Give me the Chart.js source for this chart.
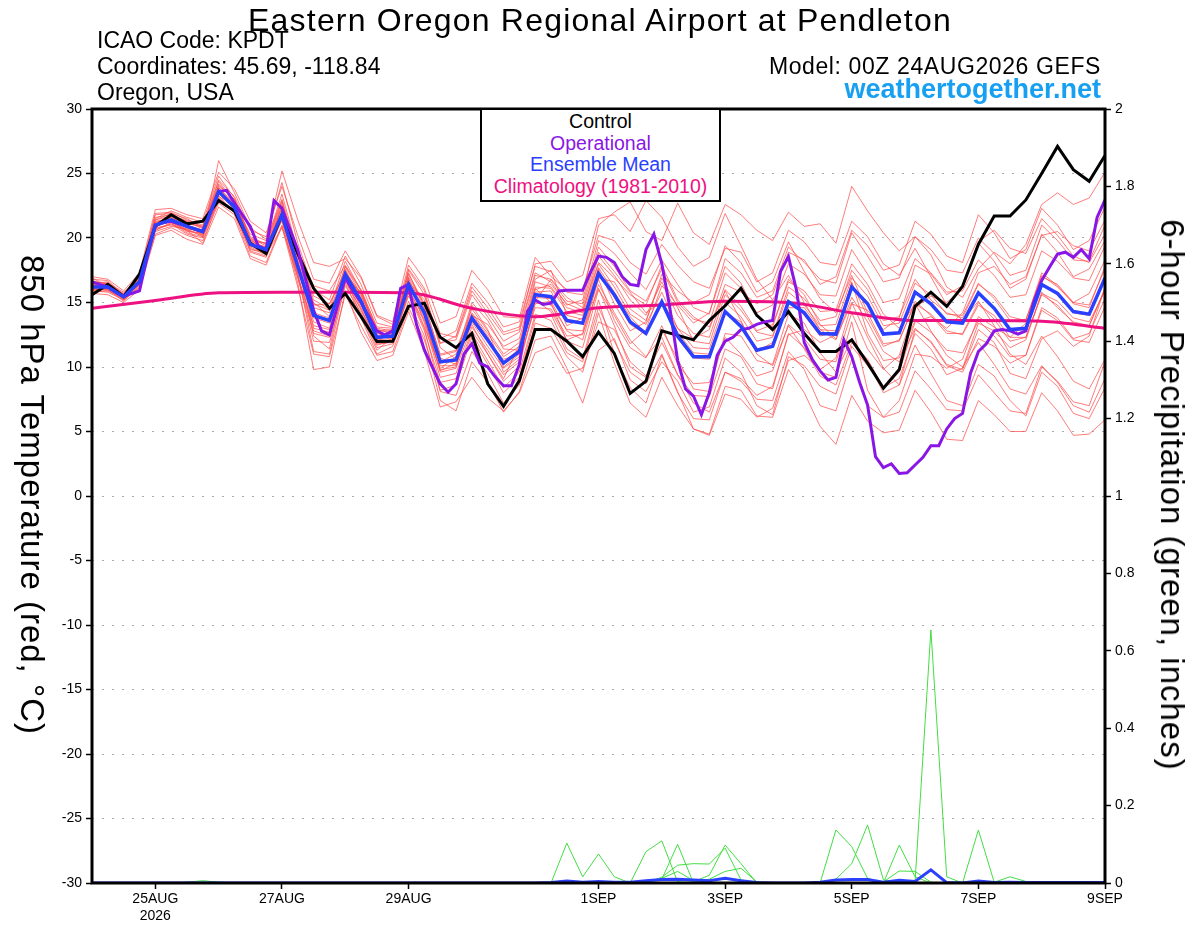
<!DOCTYPE html>
<html>
<head>
<meta charset="utf-8">
<title>KPDT GEFS 850 hPa Temperature</title>
<script src="https://cdn.jsdelivr.net/npm/chart.js@4.4.1/dist/chart.umd.min.js"></script>
<style>
  body { margin: 0; background: #fff; }
  #wrap { position: relative; width: 1200px; height: 927px; font-family: 'Liberation Sans', Arial, sans-serif; color: #000; }
  #chart { position: absolute; left: 0; top: 0; }
  .txt { position: absolute; white-space: nowrap; line-height: 1; }
  #title { left: 0; width: 1200px; text-align: center; top: 4px; font-size: 32px; letter-spacing: 1.2px; }
  .info { font-size: 23px; left: 97px; }
  .infoR { font-size: 23px; right: 99px; letter-spacing: 0.6px; }
  #site { right: 99px; top: 76px; font-size: 27px; font-weight: bold; color: #17a0f2; }
  #legend { position: absolute; left: 480px; top: 108px; width: 237px; height: 89px; border: 2px solid #000; background: #fff; text-align: center; font-size: 19.5px; line-height: 21.5px; padding-top: 1px; box-sizing: content-box; }
  .axTitle { position: absolute; white-space: nowrap; font-size: 33px; letter-spacing: 1px; transform: translate(-50%, -50%) rotate(90deg); }
</style>
</head>
<body>
<div id="wrap">
  <canvas id="chart" width="1200" height="927"></canvas>
  <div id="title" class="txt">Eastern Oregon Regional Airport at Pendleton</div>
  <div class="txt info" style="top:29px">ICAO Code: KPDT</div>
  <div class="txt info" style="top:55px">Coordinates: 45.69, -118.84</div>
  <div class="txt info" style="top:81px">Oregon, USA</div>
  <div class="txt infoR" style="top:55px">Model: 00Z 24AUG2026 GEFS</div>
  <div id="site" class="txt">weathertogether.net</div>
  <div id="legend">
    <div style="color:#000">Control</div>
    <div style="color:#8a16e6">Operational</div>
    <div style="color:#2b40ff">Ensemble Mean</div>
    <div style="color:#ee1181">Climatology (1981-2010)</div>
  </div>
  <div class="axTitle" style="left:32px; top:495px">850 hPa Temperature (red, °C)</div>
  <div class="axTitle" style="left:1172px; top:495px">6-hour Precipitation (green, inches)</div>
</div>
<script>
// Horas desde 00Z 24AUG2026 (passo de 6h para membros, 3h para o operacional)
const tickHours = [24, 72, 120, 192, 240, 288, 336, 384];
const tickLabels = [['25AUG', '2026'], '27AUG', '29AUG', '1SEP', '3SEP', '5SEP', '7SEP', '9SEP'];

// Controle (6h)
const controlT = [15.6,16.4,15.45,17.2,20.9,21.8,21.1,21.3,22.9,22.1,19.6,18.8,21.8,
  18.8,16.1,14.55,15.7,13.9,11.97,12.0,14.7,14.95,12.3,11.5,12.6,8.7,6.95,8.95,12.9,
  12.9,12.0,10.8,12.7,11.05,7.95,8.9,12.8,12.45,12.1,13.6,14.75,16.1,14.0,12.9,14.3,
  12.6,11.2,11.2,12.1,10.3,8.35,9.8,14.7,15.8,14.7,16.25,19.5,21.7,21.7,22.95,25.0,
  27.1,25.3,24.4,26.4];

// Média do ensemble (6h)
const meanT = [16.2,16.2,15.45,16.6,21.0,21.4,20.9,20.5,23.6,22.4,19.5,19.1,21.8,
  17.8,14.0,13.6,17.2,15.1,12.3,12.4,16.4,14.2,10.4,10.55,13.8,12.1,10.3,11.2,15.6,
  15.45,13.6,13.4,17.25,15.6,13.5,12.6,15.05,12.4,10.8,10.8,14.3,13.15,11.3,11.6,15.05,
  14.2,12.6,12.55,16.2,14.9,12.55,12.65,15.8,14.9,13.5,13.4,15.75,14.55,12.9,13.0,16.4,
  15.7,14.3,14.1,16.9];

// Operacional (3h)
const operationalT = [16.6,16.4,16.2,15.8,15.45,15.7,15.9,18.6,21.0,21.2,
  21.3,21.1,20.9,20.7,20.5,22.0,23.6,23.7,22.7,21.8,
  20.9,19.4,19.1,22.9,22.3,20.7,19.1,16.8,14.4,12.8,
  12.5,14.7,16.9,15.9,15.0,13.9,12.8,12.5,12.8,16.1,
  16.4,13.3,11.3,10.0,8.7,8.05,8.7,11.0,11.8,10.3,
  10.0,9.2,8.55,8.55,10.2,14.3,15.2,14.85,14.95,15.9,
  15.95,15.95,15.95,17.35,18.6,18.5,18.1,17.0,16.4,16.3,
  19.1,20.3,18.0,14.65,10.5,8.3,7.75,6.3,8.0,10.9,
  12.0,12.3,12.9,13.0,13.3,13.5,13.6,17.4,18.55,16.0,
  11.9,10.6,9.7,9.0,9.2,12.1,10.8,8.8,7.05,3.05,
  2.2,2.5,1.75,1.8,2.4,3.0,3.9,3.9,5.2,6.0,
  6.4,9.5,11.2,11.8,12.8,12.9,12.8,12.55,12.8,15.05,
  16.7,17.75,18.75,18.9,18.5,19.1,18.4,21.6,22.95];

// Climatologia (diária)
const climT = [14.55,15.15,15.75,15.8,15.8,15.75,14.55,13.9,14.6,14.8,15.1,15.0,14.2,13.6,13.6,13.55,13.0];

// Membros do ensemble (6h)
const member01 = [16.5,16.6,15.6,17.0,21.8,21.9,21.2,20.8,24.2,22.9,20.0,19.4,22.6,
  18.5,14.6,14.2,17.8,15.6,12.8,12.9,17.0,
  14.8,11.0,11.3,14.5,12.8,11.0,11.9,16.2,16.1,14.3,14.0,18.0,
  16.2,14.1,13.3,15.8,13.0,11.5,11.4,15.0,13.9,12.0,12.3,15.8,14.8,13.2,13.3,16.9,
  15.5,13.2,13.4,16.5,15.6,14.1,14.0,16.5,15.3,13.6,13.7,17.0,16.4,15.0,14.8,17.6];
const member02 = [16.9,16.3,15.3,16.4,20.6,21.2,20.4,20.1,26.0,23.5,20.8,19.9,25.2,
  21.4,18.1,17.8,18.4,16.9,13.9,13.3,16.2,
  15.5,12.2,12.8,16.5,15.0,13.1,13.5,17.8,17.4,15.8,15.6,21.0,
  22.0,22.8,20.5,19.8,22.7,20.4,19.5,22.6,21.8,20.6,19.8,22.0,20.9,21.1,19.6,24.0,
  22.1,20.4,19.0,20.1,18.7,16.2,15.4,17.6,18.9,18.0,19.5,22.6,23.5,22.6,23.1,25.1];
const member03 = [15.9,15.8,15.2,16.2,20.3,20.8,20.2,19.8,22.7,21.8,18.6,18.1,21.0,
  17.0,12.0,11.9,16.3,14.2,11.5,11.8,15.8,
  13.0,8.1,7.8,11.2,9.5,7.2,8.6,13.4,13.0,10.8,9.6,14.2,
  10.3,7.2,6.1,9.2,7.0,5.2,4.8,8.5,8.2,6.2,6.1,9.8,8.0,5.4,4.0,7.8,
  5.8,4.9,5.1,8.2,6.5,4.4,4.3,7.4,6.3,5.0,5.0,8.0,6.6,4.7,4.8,5.9];
const member04 = [16.4,16.1,15.6,16.8,21.5,22.1,21.6,21.2,24.8,23.1,19.9,19.6,23.4,
  19.0,15.2,14.5,18.2,15.9,13.1,13.0,17.5,
  15.6,11.9,12.1,15.6,13.9,12.0,12.7,17.1,16.8,15.1,14.9,19.3,
  17.8,15.9,15.1,17.6,15.0,13.7,13.4,17.3,16.1,14.2,14.8,18.0,17.2,15.6,15.5,19.1,
  17.2,15.0,15.3,18.4,17.3,15.8,15.9,18.3,17.1,15.4,15.6,19.0,18.2,16.9,16.7,19.4];
const member05 = [16.0,16.4,15.4,16.5,20.8,21.0,20.6,19.6,23.0,22.0,18.9,18.5,21.5,
  17.3,11.2,11.0,16.5,13.8,11.0,11.6,15.1,
  12.4,7.4,6.6,10.4,8.8,6.5,8.1,12.1,12.4,9.9,7.2,11.3,
  12.2,9.0,8.1,10.4,8.9,6.5,6.9,10.7,9.6,7.0,6.3,10.8,10.1,8.5,7.9,11.6,
  10.1,8.4,9.6,13.5,13.9,13.0,14.2,17.3,17.8,16.4,17.0,20.2,20.5,19.4,19.0,21.4];
const member06 = [17.0,16.8,15.9,17.3,22.2,22.3,21.8,21.5,25.1,23.8,21.3,20.4,24.0,
  20.2,16.8,16.5,19.0,17.0,14.0,13.5,18.5,
  16.8,13.4,13.9,17.5,16.0,13.9,13.8,18.5,17.0,16.0,16.0,20.2,
  19.8,18.1,17.2,19.5,17.9,16.6,16.1,19.2,18.9,16.6,17.3,20.6,19.7,18.1,17.9,21.3,
  20.1,18.0,17.1,19.2,17.0,14.8,13.6,15.1,13.2,11.0,10.2,12.4,10.8,8.9,8.3,10.6];
const member07 = [16.3,16.0,15.1,16.3,21.1,21.5,21.0,20.3,23.4,22.5,19.1,18.9,22.0,
  17.6,13.5,13.0,17.6,15.3,12.1,12.2,16.8,
  14.5,10.7,10.2,13.5,11.6,9.9,10.8,15.8,15.9,13.2,13.8,17.6,
  14.9,12.8,13.5,17.2,15.9,15.0,15.6,19.4,18.1,15.8,16.6,19.7,17.4,15.3,14.2,17.1,
  14.2,11.8,12.0,15.1,14.0,12.6,12.6,15.0,13.7,12.0,12.3,15.6,14.8,13.4,13.2,16.1];
const member08 = [15.8,15.9,15.4,16.6,20.5,20.9,20.7,20.1,22.9,22.2,19.6,19.3,21.3,
  16.5,9.8,10.0,15.9,12.7,10.5,10.9,14.3,
  11.2,6.9,7.3,9.2,7.6,6.6,8.0,11.1,11.6,9.5,9.9,13.5,
  12.9,10.4,9.3,11.9,9.4,7.8,7.7,11.4,10.8,8.7,8.3,12.6,11.5,9.6,9.2,13.5,
  8.2,6.1,6.5,9.7,8.3,6.7,6.6,9.4,8.0,6.6,6.4,10.0,8.9,7.3,7.0,10.4];
const member09 = [16.6,16.5,15.8,16.9,21.4,21.7,21.1,20.9,23.9,22.7,20.3,19.8,23.0,
  18.9,15.5,14.9,17.4,15.5,12.9,12.6,17.2,
  14.9,10.9,11.2,14.2,12.6,10.8,11.6,16.6,16.2,14.6,14.2,18.6,
  17.1,15.2,14.0,16.6,14.0,12.6,12.3,16.0,14.7,12.8,13.3,16.6,15.9,14.3,14.4,18.0,
  16.4,14.1,13.0,14.9,12.8,10.9,10.0,11.9,10.2,8.3,7.9,10.1,8.8,7.0,6.5,9.1];
const member10 = [16.1,15.9,15.3,16.1,20.9,21.3,20.5,20.4,23.3,21.9,19.2,18.7,20.8,
  16.9,12.6,12.3,17.0,14.6,11.9,12.1,16.0,
  13.7,9.6,9.9,13.1,11.3,9.4,10.4,14.9,15.1,12.8,12.1,16.4,
  14.2,12.1,10.8,12.3,9.4,7.2,6.5,9.6,9.1,7.8,8.5,12.5,12.9,11.9,12.5,16.6,
  12.6,10.5,10.7,13.6,12.7,11.3,11.1,13.6,12.4,10.8,10.9,14.4,13.6,12.1,11.9,14.7];
const member11 = [16.7,16.4,15.5,17.1,21.9,22.0,21.4,21.0,24.5,23.2,20.6,20.1,24.3,
  19.6,16.0,15.2,18.6,16.4,13.4,13.1,17.9,
  16.1,12.6,12.3,15.9,14.2,12.5,12.9,17.3,16.6,14.8,15.2,19.8,
  18.8,17.3,16.0,18.3,16.4,14.6,14.1,18.4,17.3,15.4,15.9,19.3,18.1,16.8,16.5,20.4,
  18.6,16.6,16.9,20.1,19.1,17.5,17.3,20.0,18.8,17.1,17.5,21.0,19.8,18.3,18.2,21.0];
const member12 = [15.7,15.6,15.0,16.0,20.2,20.6,19.9,19.5,22.4,21.5,18.4,17.9,20.9,
  16.2,11.0,10.8,15.6,13.2,10.9,11.2,14.6,
  12.1,8.2,8.6,12.3,10.2,8.0,9.2,13.8,14.1,11.4,10.6,15.2,
  11.0,8.4,7.2,10.9,8.0,6.0,5.9,9.6,8.9,7.5,7.4,11.2,9.8,7.0,6.6,10.6,
  7.0,6.1,7.4,11.0,10.8,9.9,10.6,13.9,13.1,12.3,13.4,17.1,16.2,15.0,15.7,18.3];
const member13 = [16.2,16.3,15.7,16.7,21.2,21.6,20.8,20.6,23.7,22.3,19.4,19.0,21.9,
  17.9,14.2,13.8,17.1,15.2,12.4,12.5,16.5,
  14.1,10.3,10.6,13.9,12.2,10.4,11.4,15.4,15.3,13.7,13.3,17.1,
  15.4,13.3,12.5,15.0,12.2,10.7,10.6,14.4,13.2,11.4,11.7,15.2,14.0,12.4,12.7,16.3,
  14.8,12.5,12.6,15.9,14.8,13.4,13.5,15.7,14.5,12.8,12.9,16.5,15.6,14.2,14.0,17.0];
const member14 = [16.8,16.7,15.6,16.9,21.6,21.8,21.3,20.7,24.1,23.0,20.1,19.5,22.8,
  18.3,13.0,12.7,17.5,14.9,12.0,12.7,16.9,
  13.4,9.2,9.5,12.8,11.0,8.9,10.1,15.0,14.8,12.9,12.8,16.8,
  13.6,11.5,10.7,13.2,10.2,8.7,8.8,12.3,11.0,9.3,9.7,13.3,12.2,10.6,10.4,14.2,
  11.4,9.8,10.9,14.6,15.5,15.0,16.1,19.7,20.6,19.2,18.8,21.5,20.2,18.6,18.1,20.3];
const member15 = [16.0,16.0,15.2,16.4,20.7,21.1,20.3,20.0,23.1,22.1,19.0,18.6,21.4,
  17.2,12.8,12.4,16.8,14.4,11.7,12.0,15.5,
  13.6,9.8,10.0,14.8,12.9,9.6,10.6,14.6,14.5,12.4,12.5,16.9,
  16.6,14.5,13.6,16.9,14.6,12.0,11.8,15.6,14.4,12.7,12.4,16.2,15.3,13.6,13.9,17.5,
  16.0,13.6,13.9,16.8,15.2,14.2,13.8,16.4,15.5,13.9,13.6,17.3,16.3,14.9,14.6,17.8];
const member16 = [16.4,16.2,15.5,16.6,21.3,21.5,21.0,20.6,23.8,22.6,19.8,19.2,22.3,
  18.1,14.9,14.4,16.9,15.8,12.6,12.3,16.3,
  14.3,10.4,11.0,14.0,13.3,11.6,12.2,16.8,17.5,14.0,13.7,17.7,
  15.8,13.9,12.6,15.2,12.7,11.1,11.0,14.2,13.5,11.2,11.9,14.6,14.6,12.9,12.8,16.5,
  13.9,11.6,12.1,14.9,14.1,12.8,12.5,14.8,14.0,12.3,12.3,15.7,15.1,13.8,13.5,15.9];
const member17 = [16.3,16.5,15.6,16.7,21.2,21.6,21.0,20.2,23.2,22.6,19.9,19.0,22.5,
  19.1,16.3,15.9,17.9,16.0,13.0,12.8,16.6,
  15.2,11.8,12.4,16.2,14.6,12.7,13.1,18.0,18.2,16.6,17.1,21.5,
  21.8,20.5,22.9,21.6,19.3,17.8,18.5,21.9,19.4,16.8,15.2,17.1,15.0,12.9,12.1,15.4,
  13.5,11.2,10.4,13.0,11.9,10.1,9.6,12.2,11.6,10.3,10.9,14.6,13.8,12.2,12.6,15.3];
const member18 = [15.9,16.1,15.4,16.4,20.6,21.1,20.6,20.2,23.0,22.1,19.3,18.8,21.6,
  17.0,13.2,12.9,16.6,14.5,11.8,11.9,15.7,
  12.8,8.8,9.1,12.6,10.5,8.4,9.6,14.1,13.6,11.1,10.4,14.6,
  12.0,9.6,8.7,11.0,8.1,5.2,4.7,7.9,7.5,6.1,6.8,10.5,10.9,9.8,10.7,14.9,
  14.4,12.9,13.8,17.9,17.2,15.6,16.3,19.6,18.2,16.1,16.8,20.3,18.9,17.0,17.6,19.8];
const member19 = [16.6,16.2,15.7,16.8,21.0,21.8,21.3,20.9,24.0,23.0,19.8,19.6,22.9,
  18.0,12.4,11.4,16.9,14.0,11.3,12.3,17.6,
  15.9,11.5,10.6,13.3,11.0,9.1,11.7,16.1,15.0,12.0,11.5,16.0,
  14.0,11.8,12.9,16.3,14.8,13.4,14.2,17.8,16.5,14.0,13.1,16.8,15.6,13.3,12.2,15.0,
  12.3,9.9,8.6,11.7,9.5,7.4,7.0,10.2,9.3,7.4,6.2,9.6,8.5,6.4,6.0,8.4];
const member20 = [16.1,16.3,15.2,16.5,21.1,21.2,20.7,20.5,23.5,22.2,19.5,19.0,21.9,
  17.5,14.8,14.9,17.3,15.7,12.9,12.6,16.1,
  13.1,9.9,10.8,15.0,13.6,11.4,11.3,15.1,16.8,15.4,14.6,18.9,
  17.4,15.8,14.2,15.1,13.0,12.2,12.9,16.4,15.8,14.9,15.6,18.9,18.3,16.4,17.0,20.6,
  19.4,17.5,17.9,21.3,20.3,18.6,18.1,21.8,20.4,18.4,19.1,22.3,21.0,19.1,19.8,22.4];
const member21 = [16.5,16.0,15.5,16.6,21.4,21.9,21.5,20.8,24.4,22.8,19.7,19.3,22.4,
  18.6,15.0,13.9,17.0,14.8,12.2,12.9,17.3,
  14.6,10.1,10.1,13.6,12.0,10.6,11.0,15.2,14.3,12.1,12.6,16.1,
  13.2,10.0,9.2,12.9,10.6,8.3,8.1,12.6,12.4,10.5,10.2,14.1,13.4,11.1,9.6,12.2,
  10.4,8.0,8.6,12.9,12.0,10.2,9.8,12.9,11.9,9.5,9.1,12.2,12.8,11.6,12.4,16.2];
const member22 = [16.0,16.1,15.6,16.4,20.9,21.3,20.6,20.3,23.9,22.4,19.4,18.9,22.1,
  17.7,13.8,13.4,17.8,15.9,12.7,12.0,15.9,
  13.9,9.7,10.3,14.1,12.4,10.0,11.0,16.0,16.4,14.9,14.4,18.1,
  16.9,15.6,14.8,17.9,15.2,13.9,13.1,15.9,13.6,11.0,10.1,13.2,11.4,9.3,8.6,11.9,
  10.6,8.4,9.1,12.6,11.4,9.4,9.9,13.4,12.8,11.5,12.1,15.8,14.6,13.5,13.2,16.0];

const membersT = [member01, member02, member03, member04, member05, member06, member07, member08,
  member09, member10, member11, member12, member13, member14, member15, member16,
  member17, member18, member19, member20, member21, member22];

// Precipitação 6h por membro: pares [passo de 6h, polegadas]
const pcp01 = [[29,0],[30,0.103],[31,0.016],[32,0.075],[33,0.016],[34,0]];
const pcp02 = [[34,0],[35,0.081],[36,0.109],[37,0.003],[38,0]];
const pcp03 = [[35,0],[36,0.01],[37,0.1],[38,0]];
const pcp04 = [[35,0],[36,0.015],[37,0.046],[38,0.05],[39,0.049],[40,0.09],[41,0.008],[42,0]];
const pcp05 = [[37,0],[38,0.003],[39,0.02],[40,0.098],[41,0.05],[42,0]];
const pcp06 = [[38,0],[39,0.01],[40,0.03],[41,0.038],[42,0.003],[43,0]];
const pcp07 = [[34,0],[35,0.004],[36,0.012],[37,0.03],[38,0.006],[39,0]];
const pcp08 = [[46,0],[47,0.137],[48,0.094],[49,0.012],[50,0]];
const pcp09 = [[46,0],[47,0.01],[48,0.05],[49,0.15],[50,0.008],[51,0]];
const pcp10 = [[50,0],[51,0.098],[52,0.016],[53,0]];
const pcp11 = [[49,0],[50,0.003],[51,0.031],[52,0.03],[53,0.002],[54,0]];
const pcp12 = [[51,0],[52,0.004],[53,0.654],[54,0.016],[55,0]];
const pcp13 = [[55,0],[56,0.137],[57,0.002],[58,0.016],[59,0.004],[60,0.003],[61,0]];
const pcp14 = [[5,0],[6,0.002],[7,0.006],[8,0.002],[9,0]];
const pcp15 = [[62,0],[63,0.004],[64,0.003]];
const membersPcp = [pcp01, pcp02, pcp03, pcp04, pcp05, pcp06, pcp07, pcp08, pcp09, pcp10,
  pcp11, pcp12, pcp13, pcp14, pcp15];

const meanPcp = [[0,0],[28,0],[29,0.001],[30,0.005],[31,0.002],[32,0.004],[33,0.002],[34,0.002],
  [35,0.006],[36,0.009],[37,0.01],[38,0.008],[39,0.006],[40,0.012],[41,0.006],[42,0.001],[43,0],
  [45,0],[46,0.002],[47,0.008],[48,0.009],[49,0.009],[50,0.002],[51,0.007],[52,0.004],[53,0.034],
  [54,0.001],[55,0],[56,0.005],[57,0.001],[58,0.002],[59,0.001],[64,0.001]];

// Conversão para pontos {x: horas, y}
function serie(vals, passoHoras) {
  return vals.map((v, i) => ({ x: i * passoHoras, y: v }));
}
function seriePares(pares) {
  return pares.map(p => ({ x: p[0] * 6, y: p[1] }));
}

const datasets = [];
datasets.push({ data: serie(meanT, 6), borderColor: '#2b40ff', borderWidth: 3.5, yAxisID: 'y', order: 0 });
datasets.push({ data: serie(operationalT, 3), borderColor: '#8a16e6', borderWidth: 3, yAxisID: 'y', order: 1 });
datasets.push({ data: serie(controlT, 6), borderColor: '#000000', borderWidth: 3, yAxisID: 'y', order: 2 });
datasets.push({ data: serie(climT, 24), borderColor: '#ee1181', borderWidth: 3, yAxisID: 'y', order: 3,
  cubicInterpolationMode: 'monotone' });
datasets.push({ data: seriePares(meanPcp), borderColor: '#2b40ff', borderWidth: 3, yAxisID: 'y2', order: 4 });
membersPcp.forEach(p => {
  datasets.push({ data: seriePares(p), borderColor: '#44dd44', borderWidth: 1, yAxisID: 'y2', order: 5 });
});
membersT.forEach(m => {
  datasets.push({ data: serie(m, 6), borderColor: 'rgba(255,75,75,0.72)', borderWidth: 1, yAxisID: 'y', order: 6 });
});

// Moldura preta grossa em volta da área do gráfico
const moldura = {
  id: 'moldura',
  afterDatasetsDraw(chart) {
    const a = chart.chartArea;
    const ctx = chart.ctx;
    ctx.save();
    ctx.strokeStyle = '#000';
    ctx.lineWidth = 3;
    ctx.strokeRect(a.left, a.top, a.right - a.left, a.bottom - a.top);
    ctx.restore();
  }
};

const fonteTicks = { family: "'Liberation Sans', Arial, sans-serif", size: 14 };

new Chart(document.getElementById('chart').getContext('2d'), {
  type: 'line',
  data: { datasets },
  options: {
    responsive: false,
    animation: false,
    events: [],
    layout: { padding: { top: 109, left: 0, right: 0, bottom: 0 } },
    elements: { point: { radius: 0 }, line: { tension: 0 } },
    plugins: { legend: { display: false }, tooltip: { enabled: false } },
    scales: {
      x: {
        type: 'linear', min: 0, max: 384,
        afterBuildTicks: s => { s.ticks = tickHours.map(v => ({ value: v })); },
        afterFit: s => { s.height = 44; },
        ticks: {
          autoSkip: false, maxRotation: 0, minRotation: 0, color: '#000', font: fonteTicks, padding: 2,
          callback: v => tickLabels[tickHours.indexOf(v)]
        },
        grid: { drawOnChartArea: false, tickLength: 6, tickColor: '#000', tickWidth: 1.5 },
        border: { display: false }
      },
      y: {
        position: 'left', min: -30, max: 30,
        afterFit: s => { s.width = 92; },
        ticks: { stepSize: 5, color: '#000', font: fonteTicks, padding: 4 },
        grid: { color: '#aaaaaa', lineWidth: 1, tickLength: 6, tickColor: '#000', tickWidth: 1.5, tickBorderDash: [] },
        border: { display: false, dash: [2, 8] }
      },
      y2: {
        position: 'right', min: 0, max: 2,
        afterFit: s => { s.width = 95; },
        ticks: { stepSize: 0.2, color: '#000', font: fonteTicks, padding: 4,
          callback: v => String(Math.round(v * 10) / 10) },
        grid: { drawOnChartArea: false, tickLength: 6, tickColor: '#000', tickWidth: 1.5 },
        border: { display: false }
      }
    }
  },
  plugins: [moldura]
});
</script>
</body>
</html>
